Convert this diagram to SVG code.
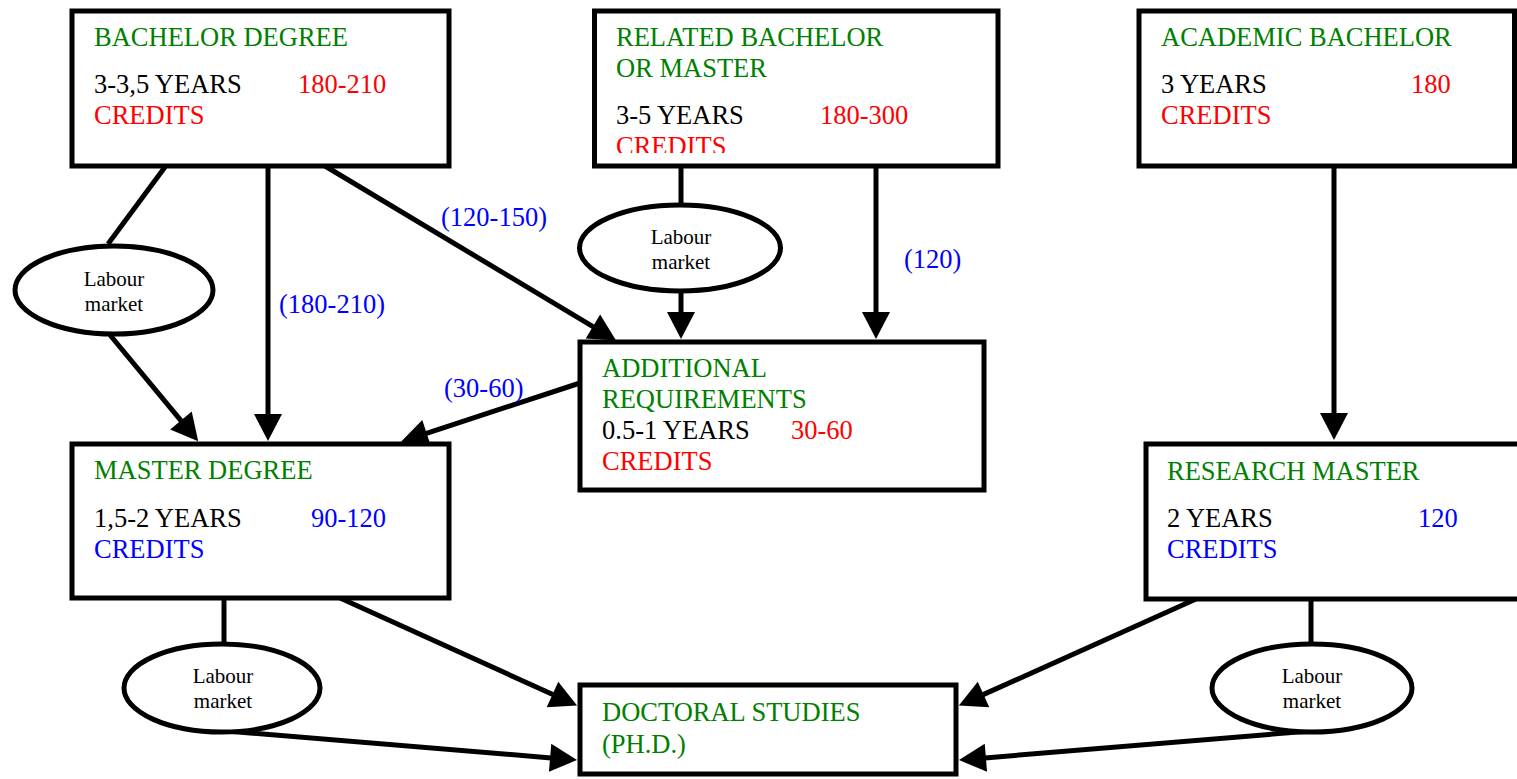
<svg xmlns="http://www.w3.org/2000/svg" width="1517" height="779" viewBox="0 0 1517 779">
<style>
.box{fill:#fff;stroke:#000;stroke-width:5}
.ell{fill:#fff;stroke:#000;stroke-width:5}
.ln{stroke:#000;stroke-width:5;fill:none}
.t{font-family:"Liberation Serif","Times New Roman",serif;font-size:26.5px}
.lm{font-family:"Liberation Serif","Times New Roman",serif;font-size:21px;fill:#000;text-anchor:middle}
.g{fill:#008000}.r{fill:#ff0000}.b{fill:#0000ff}.k{fill:#000}
</style>
<defs>
<marker id="ah" markerUnits="userSpaceOnUse" viewBox="0 -14 27 28" markerWidth="27" markerHeight="28" refX="1" refY="0" orient="auto" overflow="visible">
<path d="M0,-14 L27,0 L0,14 z" fill="#000"/>
</marker>
<clipPath id="relclip"><rect x="596" y="13" width="400" height="140"/></clipPath>
</defs>
<rect width="1517" height="779" fill="#fff"/>
<g id="connectors">
<line class="ln" x1="165" y1="167" x2="108" y2="244"/>
<line class="ln" x1="110" y1="335" x2="181.6" y2="421.3" marker-end="url(#ah)"/>
<line class="ln" x1="268" y1="166" x2="268" y2="415" marker-end="url(#ah)"/>
<line class="ln" x1="325" y1="166" x2="593.8" y2="327.1" marker-end="url(#ah)"/>
<line class="ln" x1="681" y1="166" x2="681" y2="205"/>
<line class="ln" x1="681" y1="290" x2="681" y2="313" marker-end="url(#ah)"/>
<line class="ln" x1="876" y1="166" x2="876" y2="313" marker-end="url(#ah)"/>
<line class="ln" x1="580" y1="383" x2="425.7" y2="433.6" marker-end="url(#ah)"/>
<line class="ln" x1="1334" y1="166" x2="1334" y2="414" marker-end="url(#ah)"/>
<line class="ln" x1="224" y1="598" x2="224" y2="645"/>
<line class="ln" x1="340" y1="598" x2="553.4" y2="694.8" marker-end="url(#ah)"/>
<line class="ln" x1="226" y1="731" x2="551.1" y2="757.9" marker-end="url(#ah)"/>
<line class="ln" x1="1196" y1="599" x2="982.6" y2="694.9" marker-end="url(#ah)"/>
<line class="ln" x1="1311" y1="599" x2="1311" y2="645"/>
<line class="ln" x1="1310" y1="731" x2="984.9" y2="757.9" marker-end="url(#ah)"/>
<text class="t b" x="441" y="226">(120-150)</text>
<text class="t b" x="279" y="313">(180-210)</text>
<text class="t b" x="904" y="268">(120)</text>
<text class="t b" x="444" y="397">(30-60)</text>
</g>
<g id="bachelor">
<rect class="box" x="72" y="11" width="377" height="155"/>
<text class="t g" x="94" y="46">BACHELOR DEGREE</text>
<text class="t k" x="94" y="93">3-3,5 YEARS</text>
<text class="t r" x="298" y="93">180-210</text>
<text class="t r" x="94" y="124">CREDITS</text>
</g>
<g id="related">
<rect class="box" x="594.5" y="11" width="403.5" height="155"/>
<g clip-path="url(#relclip)">
<text class="t g" x="616" y="46">RELATED BACHELOR</text>
<text class="t g" x="616" y="77">OR MASTER</text>
<text class="t k" x="616" y="124">3-5 YEARS</text>
<text class="t r" x="820" y="124">180-300</text>
<text class="t r" x="616" y="155">CREDITS</text>
</g>
</g>
<g id="academic">
<rect class="box" x="1139" y="11" width="375.5" height="155"/>
<text class="t g" x="1161" y="46">ACADEMIC BACHELOR</text>
<text class="t k" x="1161" y="93">3 YEARS</text>
<text class="t r" x="1411" y="93">180</text>
<text class="t r" x="1161" y="124">CREDITS</text>
</g>
<g id="labour1">
<ellipse class="ell" cx="114" cy="290" rx="99" ry="44"/>
<text class="lm" x="114" y="286">Labour</text>
<text class="lm" x="114" y="311">market</text>
</g>
<g id="labour2">
<ellipse class="ell" cx="680" cy="248" rx="100.5" ry="43"/>
<text class="lm" x="681" y="244">Labour</text>
<text class="lm" x="681" y="269">market</text>
</g>
<g id="additional">
<rect class="box" x="580" y="342" width="404" height="148"/>
<text class="t g" x="602" y="377">ADDITIONAL</text>
<text class="t g" x="602" y="408">REQUIREMENTS</text>
<text class="t k" x="602" y="439">0.5-1 YEARS</text>
<text class="t r" x="791" y="439">30-60</text>
<text class="t r" x="602" y="470">CREDITS</text>
</g>
<g id="master">
<rect class="box" x="72" y="444" width="377" height="154"/>
<text class="t g" x="94" y="479">MASTER DEGREE</text>
<text class="t k" x="94" y="527">1,5-2 YEARS</text>
<text class="t b" x="311" y="527">90-120</text>
<text class="t b" x="94" y="558">CREDITS</text>
</g>
<g id="research">
<rect class="box" x="1146" y="444" width="400" height="155"/>
<text class="t g" x="1167" y="480">RESEARCH MASTER</text>
<text class="t k" x="1167" y="527">2 YEARS</text>
<text class="t b" x="1418" y="527">120</text>
<text class="t b" x="1167" y="558">CREDITS</text>
</g>
<g id="labour3">
<ellipse class="ell" cx="222" cy="688" rx="98" ry="44"/>
<text class="lm" x="223" y="683">Labour</text>
<text class="lm" x="223" y="708">market</text>
</g>
<g id="labour4">
<ellipse class="ell" cx="1312" cy="688" rx="100" ry="44"/>
<text class="lm" x="1312" y="683">Labour</text>
<text class="lm" x="1312" y="708">market</text>
</g>
<g id="doctoral">
<rect class="box" x="580" y="685" width="376" height="89"/>
<text class="t g" x="602" y="721">DOCTORAL STUDIES</text>
<text class="t g" x="602" y="753">(PH.D.)</text>
</g>
</svg>
